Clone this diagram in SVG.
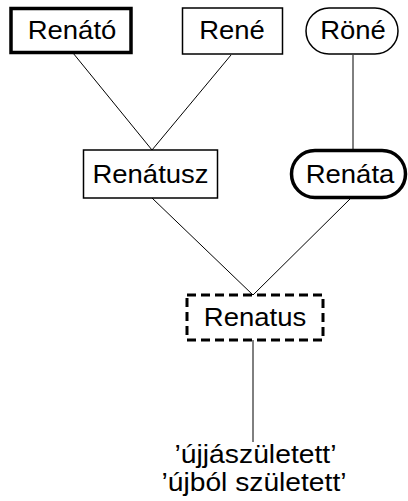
<svg xmlns="http://www.w3.org/2000/svg" width="408" height="501" viewBox="0 0 408 501">
<style>
.box{fill:#fff;stroke:#000}
.thin{stroke-width:1.5}
.thick{stroke-width:3.5}
.dash{stroke-width:3;stroke-dasharray:9 5}
text{font-family:"Liberation Sans",Arial,sans-serif;font-size:26px;fill:#000;text-anchor:middle}
.edge{stroke:#000;stroke-width:1;fill:none}
</style>
<rect width="408" height="501" fill="#fff"/>
<g id="connectors">
<line class="edge" x1="73" y1="53" x2="152" y2="150"/>
<line class="edge" x1="231" y1="55" x2="152" y2="150"/>
<line class="edge" x1="353" y1="55" x2="353" y2="150"/>
<line class="edge" x1="152" y1="198" x2="253" y2="295"/>
<line class="edge" x1="350" y1="199" x2="253" y2="295"/>
<line class="edge" x1="253" y1="340" x2="253" y2="442"/>
</g>
<g id="renato">
<rect class="box thick" x="11" y="8.5" width="120" height="44"/>
<text x="72" y="39" textLength="88.7" lengthAdjust="spacingAndGlyphs">Renátó</text>
</g>
<g id="rene">
<rect class="box thin" x="182.5" y="8" width="100" height="46"/>
<text x="232" y="39" textLength="65.7" lengthAdjust="spacingAndGlyphs">René</text>
</g>
<g id="rone">
<rect class="box thin" x="306" y="8" width="92" height="46" rx="23"/>
<text x="353" y="39" textLength="65.7" lengthAdjust="spacingAndGlyphs">Röné</text>
</g>
<g id="renatusz">
<rect class="box thin" x="83.5" y="150" width="134" height="48"/>
<text x="150.5" y="183" textLength="116.2" lengthAdjust="spacingAndGlyphs">Renátusz</text>
</g>
<g id="renata">
<rect class="box thick" x="291.5" y="150.5" width="114" height="47" rx="23.5"/>
<text x="350" y="183" textLength="88.7" lengthAdjust="spacingAndGlyphs">Renáta</text>
</g>
<g id="renatus">
<rect class="box dash" x="187" y="295" width="136" height="45"/>
<text x="255" y="326" textLength="102.4" lengthAdjust="spacingAndGlyphs">Renatus</text>
</g>
<g id="meaning">
<text x="255.5" y="463" textLength="162" lengthAdjust="spacingAndGlyphs">’újjászületett’</text>
<text x="254" y="491" textLength="185" lengthAdjust="spacingAndGlyphs">’újból született’</text>
</g>
</svg>
